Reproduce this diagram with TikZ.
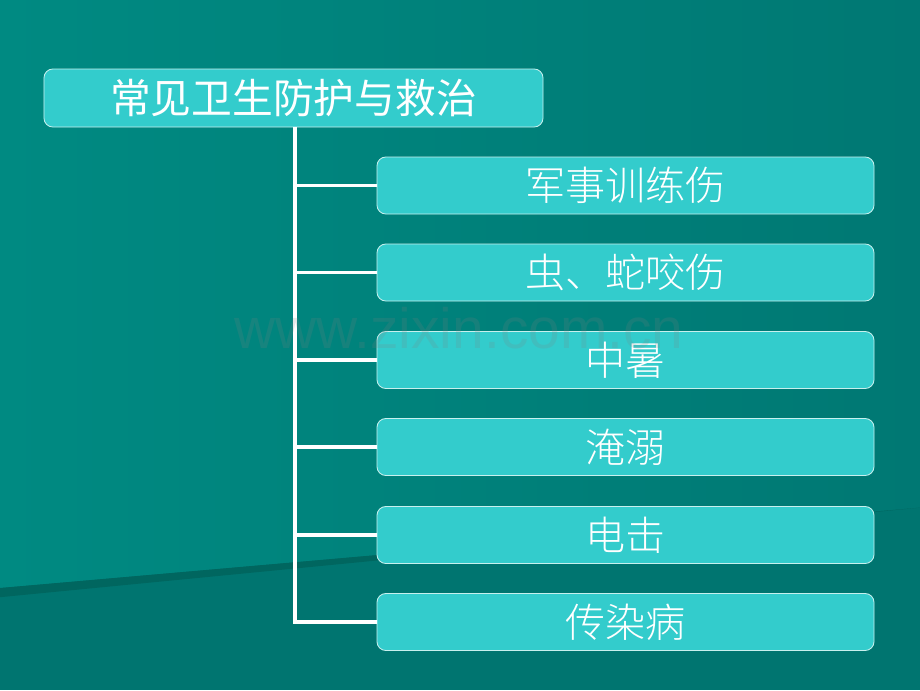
\documentclass[tikz,border=0pt]{standalone}
\usepackage{fontspec}
\newfontfamily\cjk{Noto Sans CJK SC}
\newfontfamily\cjklight{Noto Sans CJK SC}[UprightFont={* Light}]
\newfontfamily\wmfont{Liberation Sans}
\usetikzlibrary{positioning}
\definecolor{bgdark}{HTML}{007570}
\definecolor{bglight}{HTML}{008A82}
\definecolor{bgright}{HTML}{007873}
\definecolor{stripe}{HTML}{00665F}
\definecolor{boxfill}{HTML}{33CCCC}
\definecolor{boxline}{HTML}{C8F0EE}

\begin{document}
\begin{tikzpicture}[
        topic/.style={draw=boxline,line width=.6pt,fill=boxfill,rounded corners=.22cm,
            minimum width=12.475cm,minimum height=1.45cm,text=white,font=\cjk\fontsize{29}{29}\selectfont},
        sub/.style={draw=boxline,line width=.6pt,fill=boxfill,rounded corners=.22cm,
            minimum width=12.425cm,minimum height=1.425cm,text=white,font=\cjklight\fontsize{28.5}{28.5}\selectfont},
        branch/.style={draw=white,line width=2.2pt}]
        % background
        \useasboundingbox (0,0) rectangle (23,-17.25);
        \fill[bgdark] (0,0) rectangle (23,-17.25);
        \shade[left color=bglight,right color=bgright] (0,0) -- (23,0) -- (23,-12.69) -- (0,-14.7) -- cycle;
        \fill[stripe] (0,-14.7) -- (23,-12.69) -- (0,-14.93) -- cycle;
        % boxes
        \node[topic] (title) at (7.3375,-2.45) {常见卫生防护与救治};
        \node[sub] (s1) at (15.6375,-4.6375) {军事训练伤};
        \node[sub] (s2) at (15.6375,-6.8125) {虫、蛇咬伤};
        \node[sub] (s3) at (15.6375,-9.0) {中暑};
        \node[sub] (s4) at (15.6375,-11.175) {淹溺};
        \node[sub] (s5) at (15.6375,-13.375) {电击};
        \node[sub] (s6) at (15.6375,-15.55) {传染病};
        % connectors
        \coordinate (jn) at (7.375,-15.55);
        \draw[branch] (title.south -| jn) -- (jn) -- (s6.west);
        \draw[branch] (s1.west) -- (s1.west -| jn);
        \draw[branch] (s2.west) -- (s2.west -| jn);
        \draw[branch] (s3.west) -- (s3.west -| jn);
        \draw[branch] (s4.west) -- (s4.west -| jn);
        \draw[branch] (s5.west) -- (s5.west -| jn);
        % watermark
        \node[text=gray,opacity=.18,font=\wmfont\fontsize{40.5}{40.5}\selectfont] (wm) at (11.475,-8.2) {www.zixin.com.cn};
    \end{tikzpicture}
\end{document}
